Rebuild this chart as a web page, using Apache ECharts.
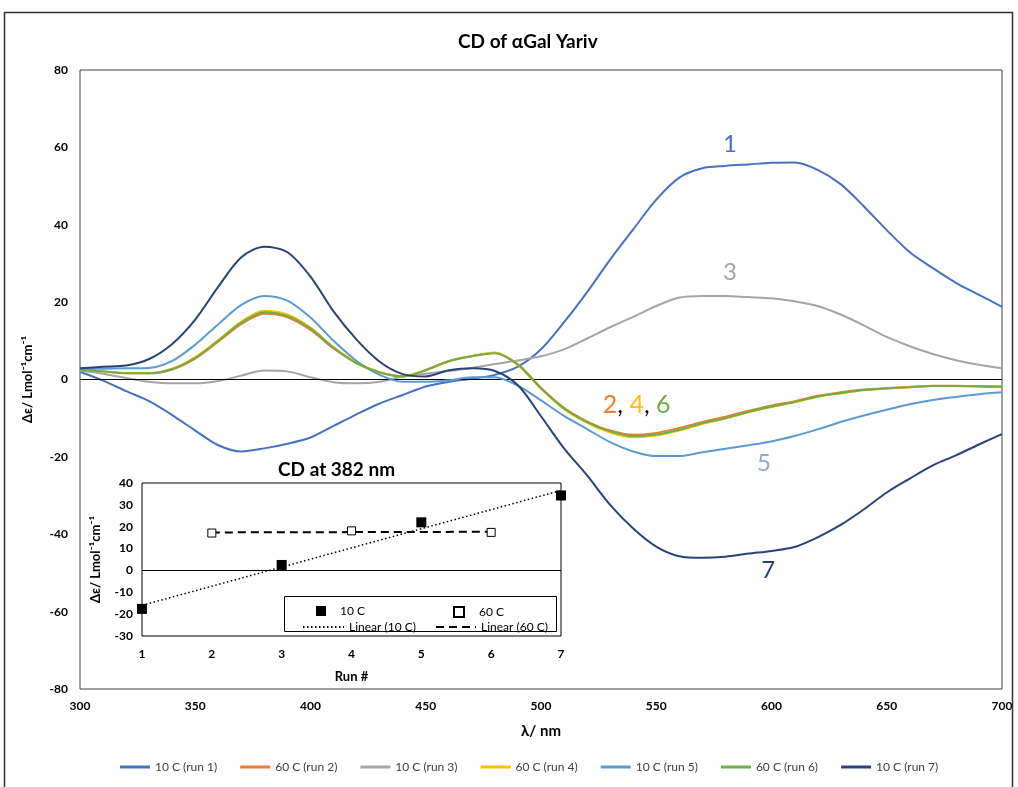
<!DOCTYPE html>
<html>
<head>
<meta charset="utf-8">
<title>CD of αGal Yariv</title>
<script src="https://cdn.jsdelivr.net/npm/echarts@6/dist/echarts.min.js"></script>
<style>
  html, body { margin: 0; padding: 0; background: #fff; }
  #chart { width: 1018px; height: 787px; }
</style>
</head>
<body>
<div id="chart"></div>
<script>
// Wavelength grid (nm) shared by every CD trace
const wavelengths = [300,310,320,330,340,350,360,370,380,390,400,410,420,430,440,450,460,470,480,490,
  500,510,520,530,540,550,560,570,580,590,600,610,620,630,640,650,660,670,680,690,700];

// Δε traces (L mol^-1 cm^-1)
const run1 = [2.0,-0.3,-3.0,-5.6,-9.2,-13.2,-17.0,-18.6,-17.8,-16.6,-15.0,-12.0,-9.0,-6.2,-4.0,-1.8,-0.6,0.2,1.2,3.3,
  7.8,14.8,22.6,31.0,38.8,46.5,52.2,54.6,55.2,55.6,56.0,56.1,54.2,50.5,44.8,38.6,32.9,28.8,25.0,21.9,18.8];
const run2 = [2.5,2.1,1.7,1.6,2.6,5.4,9.8,14.3,17.0,16.1,12.8,8.0,4.2,1.9,0.8,2.5,4.8,6.1,6.9,3.9,
  -2.1,-7.3,-10.8,-13.2,-14.3,-13.8,-12.5,-11.0,-9.6,-8.1,-6.7,-5.6,-4.2,-3.3,-2.6,-2.2,-1.9,-1.6,-1.6,-1.7,-1.8];
const run3 = [2.3,1.5,0.4,-0.6,-1.0,-1.0,-0.4,1.0,2.3,2.1,0.6,-0.7,-1.0,-0.6,0.8,1.5,2.2,3.0,4.0,4.9,
  6.0,7.8,10.6,13.5,16.2,19.0,21.2,21.6,21.6,21.3,21.0,20.2,19.0,16.8,14.0,11.0,8.6,6.6,5.0,3.8,2.9];
const run4 = [2.5,2.1,1.7,1.7,2.8,5.8,10.2,15.0,17.8,16.8,13.4,8.4,4.4,1.9,0.9,2.4,4.7,6.0,7.0,3.7,
  -2.4,-7.7,-11.2,-13.7,-14.9,-14.5,-13.2,-11.5,-10.1,-8.5,-7.1,-5.9,-4.5,-3.6,-2.8,-2.3,-2.0,-1.7,-1.7,-1.8,-1.9];
const run5 = [2.7,2.8,2.9,3.0,4.8,9.0,14.3,19.3,21.6,20.4,16.0,10.0,4.8,1.2,-0.6,-0.6,-0.2,0.6,0.6,-1.6,
  -5.4,-9.4,-12.8,-16.2,-18.6,-19.8,-19.8,-18.8,-17.9,-17.0,-16.0,-14.6,-12.9,-11.0,-9.3,-7.8,-6.4,-5.3,-4.5,-3.8,-3.3];
const run6 = [2.5,2.1,1.6,1.6,2.7,5.6,10.0,14.7,17.4,16.4,13.2,8.2,4.2,1.8,0.8,2.4,4.7,6.0,6.8,3.8,
  -2.3,-7.5,-11.0,-13.4,-14.6,-14.2,-13.0,-11.3,-10.0,-8.4,-7.0,-5.8,-4.4,-3.5,-2.7,-2.3,-2.0,-1.7,-1.7,-1.8,-1.9];
const run7 = [2.9,3.3,3.6,5.3,9.2,15.5,24.0,31.6,34.3,32.9,26.6,17.6,10.3,4.6,1.4,0.8,2.4,2.9,2.2,-1.5,
  -9.5,-17.8,-24.8,-32.4,-38.5,-43.2,-45.7,-46.1,-45.8,-45.0,-44.3,-43.3,-40.8,-37.6,-33.6,-29.2,-25.6,-22.2,-19.6,-16.8,-14.1];

const traceNames = ['10 C (run 1)','60 C (run 2)','10 C (run 3)','60 C (run 4)','10 C (run 5)','60 C (run 6)','10 C (run 7)'];
const traceColors = ['#4472C4','#ED7D31','#A5A5A5','#FFC000','#5B9BD5','#70AD47','#264478'];
const traces = [run1, run2, run3, run4, run5, run6, run7];

// Inset: Δε at 382 nm versus run number
const runs10C = [1, 3, 5, 7];
const cd10C = [-17.6, 2.5, 22.0, 34.3];
const runs60C = [2, 4, 6];
const cd60C = [17.1, 18.1, 17.4];

// Main axis ticks
const xTicks = { min: 300, max: 700, step: 50 };
const yTicks = { min: -80, max: 80, step: 20 };

const FONT = 'Lato, "Liberation Sans", sans-serif';
const SUP = 'Δε/ Lmol\u207B\u00B9cm\u207B\u00B9';

function pairs(xs, ys) { return xs.map((x, i) => [x, ys[i]]); }

// least-squares linear trend, evaluated at the ends of the run range
function linearTrend(xs, ys) {
  const n = xs.length;
  const mx = xs.reduce((a, b) => a + b, 0) / n;
  const my = ys.reduce((a, b) => a + b, 0) / n;
  let sxy = 0, sxx = 0;
  xs.forEach((x, i) => { sxy += (x - mx) * (ys[i] - my); sxx += (x - mx) * (x - mx); });
  const slope = sxy / sxx;
  const icpt = my - slope * mx;
  const x0 = Math.min(...xs), x1 = Math.max(...xs);
  return [[x0, icpt + slope * x0], [x1, icpt + slope * x1]];
}

const chart = echarts.init(document.getElementById('chart'), null, { renderer: 'canvas' });

const traceSeries = traces.map((vals, i) => ({
  name: traceNames[i],
  type: 'line',
  xAxisIndex: 0, yAxisIndex: 0,
  data: pairs(wavelengths, vals),
  symbol: 'none',
  smooth: 0.3,
  lineStyle: { color: traceColors[i], width: 2 },
  itemStyle: { color: traceColors[i] },
  silent: true,
  z: 2 + i
}));

// zero line and curve labels on the main plot
traceSeries[0].markLine = {
  silent: true, symbol: 'none', animation: false,
  label: { show: false },
  lineStyle: { color: '#000', width: 1, type: 'solid' },
  data: [{ yAxis: 0 }]
};
const annoLabel = (txt, color) => ({
  show: true, position: 'inside', formatter: txt,
  color: color, fontSize: 24, fontFamily: FONT
});
const richNum = (color) => ({ color: color, fontSize: 25, fontFamily: FONT });
traceSeries[0].markPoint = {
  silent: true, animation: false,
  symbol: 'circle', symbolSize: 1,
  itemStyle: { color: 'rgba(0,0,0,0)' },
  data: [
    { coord: [582, 60.9], label: annoLabel('1', '#4472C4') },
    { coord: [582, 27.6], label: annoLabel('3', '#A5A5A5') },
    { coord: [596.7, -21.7], label: annoLabel('5', '#8FAADC') },
    { coord: [598.6, -49.2], label: annoLabel('7', '#264478') },
    { coord: [541.5, -6.6], label: {
        show: true, position: 'inside', fontSize: 25, fontFamily: FONT,
        formatter: '{a|2}{k|, }{b|4}{k|, }{c|6}',
        rich: { a: richNum('#ED7D31'), b: richNum('#FFC000'), c: richNum('#70AD47'), k: richNum('#000') }
      } }
  ]
};

const insetSeries = [
  {
    name: '10 C', type: 'scatter', xAxisIndex: 1, yAxisIndex: 1,
    data: pairs(runs10C, cd10C), symbol: 'rect', symbolSize: 10,
    itemStyle: { color: '#000', opacity: 1 }, z: 20,
    markLine: {
      silent: true, symbol: 'none', animation: false, label: { show: false },
      lineStyle: { color: '#000', width: 1, type: 'solid' }, data: [{ yAxis: 0 }]
    }
  },
  {
    name: '60 C', type: 'scatter', xAxisIndex: 1, yAxisIndex: 1,
    data: pairs(runs60C, cd60C), symbol: 'rect', symbolSize: 8,
    itemStyle: { color: '#fff', borderColor: '#000', borderWidth: 1, opacity: 1 }, z: 20
  },
  {
    name: 'Linear (10 C)', type: 'line', xAxisIndex: 1, yAxisIndex: 1,
    data: linearTrend(runs10C, cd10C), symbol: 'none',
    lineStyle: { color: '#000', width: 1.5, type: [1.5, 2.5] },
    itemStyle: { color: '#000' }, z: 15
  },
  {
    name: 'Linear (60 C)', type: 'line', xAxisIndex: 1, yAxisIndex: 1,
    data: linearTrend(runs60C, cd60C), symbol: 'none',
    lineStyle: { color: '#000', width: 2, type: [8, 5] },
    itemStyle: { color: '#000' }, z: 15
  }
];

const insetLegend = (name, left, top, w, h, pad, extra) => Object.assign({
  data: [name], left: left, top: top, itemWidth: w, itemHeight: h, itemGap: 0,
  orient: 'horizontal', selectedMode: false,
  textStyle: { fontFamily: FONT, fontSize: 12, color: '#000', padding: [0, 0, 0, pad] }
}, extra || {});

chart.setOption({
  animation: false,
  backgroundColor: '#fff',
  textStyle: { fontFamily: FONT },
  title: [
    { text: 'CD of αGal Yariv', left: 453, top: 27,
      textStyle: { fontFamily: FONT, fontSize: 19, fontWeight: 'bold', color: '#000' } },
    { text: 'CD at 382 nm', left: 273, top: 455,
      textStyle: { fontFamily: FONT, fontSize: 19, fontWeight: 'bold', color: '#000' } }
  ],
  grid: [
    { left: 80, right: 16, top: 70, bottom: 98, show: true, borderColor: '#404040', borderWidth: 1, z: 0 },
    { left: 142, top: 483, width: 419, height: 153, show: true, borderColor: '#000', borderWidth: 1, z: 10 }
  ],
  xAxis: [
    {
      type: 'value', gridIndex: 0, min: xTicks.min, max: xTicks.max, interval: xTicks.step,
      name: 'λ/ nm', nameLocation: 'middle', nameGap: 35,
      nameTextStyle: { fontFamily: FONT, fontSize: 15, fontWeight: 'bold', color: '#000' },
      axisLine: { show: false }, axisTick: { show: false }, splitLine: { show: false },
      axisLabel: { fontFamily: FONT, fontSize: 12, fontWeight: 'bold', color: '#000', margin: 11 }
    },
    {
      type: 'value', gridIndex: 1, min: 1, max: 7, interval: 1,
      name: 'Run #', nameLocation: 'middle', nameGap: 34,
      nameTextStyle: { fontFamily: FONT, fontSize: 13, fontWeight: 'bold', color: '#000' },
      axisLine: { show: false }, axisTick: { show: false }, splitLine: { show: false },
      axisLabel: { fontFamily: FONT, fontSize: 12, fontWeight: 'bold', color: '#000', margin: 12 }
    }
  ],
  yAxis: [
    {
      type: 'value', gridIndex: 0, min: yTicks.min, max: yTicks.max, interval: yTicks.step,
      name: SUP, nameLocation: 'middle', nameGap: 46, nameRotate: 90,
      nameTextStyle: { fontFamily: FONT, fontSize: 13, fontWeight: 'bold', color: '#000' },
      axisLine: { show: false }, axisTick: { show: false }, splitLine: { show: false },
      axisLabel: { fontFamily: FONT, fontSize: 12, fontWeight: 'bold', color: '#000', margin: 12 }
    },
    {
      type: 'value', gridIndex: 1, min: -30, max: 40, interval: 10,
      name: SUP, nameLocation: 'middle', nameGap: 40, nameRotate: 90,
      nameTextStyle: { fontFamily: FONT, fontSize: 13, fontWeight: 'bold', color: '#000' },
      axisLine: { show: false }, axisTick: { show: false }, splitLine: { show: false },
      axisLabel: { fontFamily: FONT, fontSize: 12, fontWeight: 'bold', color: '#000', margin: 9 }
    }
  ],
  legend: [
    {
      data: traceNames.map(n => ({ name: n, icon: 'rect' })),
      bottom: 9, left: 115, itemWidth: 30, itemHeight: 3, itemGap: 23,
      selectedMode: false,
      textStyle: { fontFamily: FONT, fontSize: 12, color: '#404040' }
    },
    insetLegend('10 C', 311, 600, 10, 10, 9),
    insetLegend('60 C', 448, 601, 10, 10, 10),
    insetLegend('Linear (10 C)', 297, 616, 41, 14, 0, { itemStyle: { opacity: 0 } }),
    insetLegend('Linear (60 C)', 430, 616, 40, 14, 0, { itemStyle: { opacity: 0 } })
  ],
  graphic: [
    { type: 'rect', silent: true, z: 100,
      shape: { x: 4.5, y: 12.5, width: 1008, height: 800 },
      style: { fill: 'none', stroke: '#333', lineWidth: 1.5 } },
    { type: 'rect', silent: true, z: 100,
      shape: { x: 284.5, y: 596.5, width: 272, height: 35 },
      style: { fill: 'none', stroke: '#000', lineWidth: 1 } }
  ],
  series: traceSeries.concat(insetSeries)
});
</script>
</body>
</html>
